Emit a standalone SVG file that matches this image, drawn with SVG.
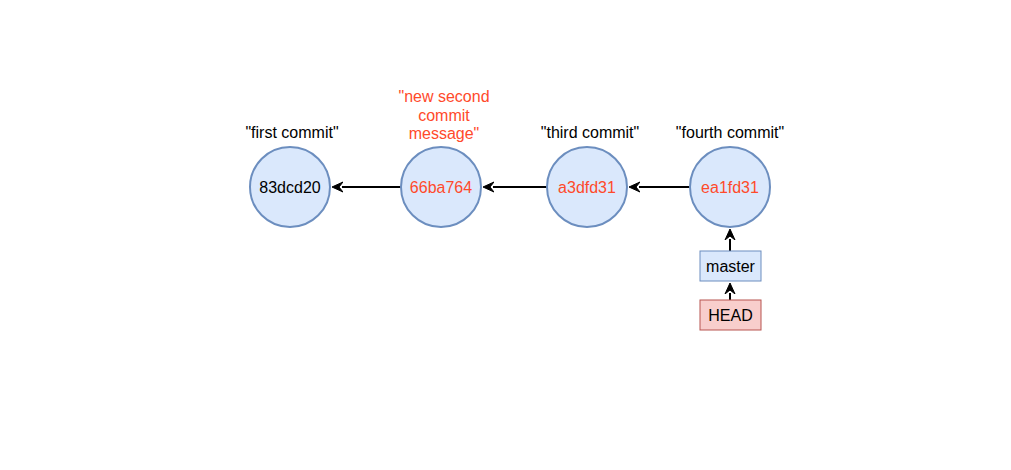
<svg xmlns="http://www.w3.org/2000/svg" width="1011" height="470" viewBox="0 0 1011 470">
<style>
.c{fill:#dae8fc;stroke:#6c8ebf;stroke-width:2}
.t{font-family:"Liberation Sans",Arial,sans-serif;font-size:16px;text-anchor:middle}
.r{fill:#ff4a2b}
.k{fill:#000}
.e{stroke:#000;stroke-width:2;fill:none;marker-end:url(#a)}
</style>
<defs>
<marker id="a" markerWidth="12" markerHeight="12" refX="1" refY="6" orient="auto" markerUnits="userSpaceOnUse" viewBox="0 0 12 12">
<path d="M12,1 L1,6 L12,11 L8,6 Z" fill="#000" stroke="#000" stroke-width="1" transform="rotate(180 6 6)"/>
</marker>
</defs>
<rect width="1011" height="470" fill="#fff"/>
<g id="connectors">
<path class="e" d="M401,187 L342,187"/>
<path class="e" d="M547,187 L493,187"/>
<path class="e" d="M690,187 L639,187"/>
<path class="e" d="M730,251 L730,239"/>
<path class="e" d="M730,300 L730,293"/>
</g>
<g id="c1">
<circle class="c" cx="290" cy="187" r="40"/>
<text class="t k" x="290" y="193">83dcd20</text>
<text class="t k" x="292" y="138">"first commit"</text>
</g>
<g id="c2">
<circle class="c" cx="441" cy="187" r="40"/>
<text class="t r" x="441" y="193">66ba764</text>
<text class="t r" x="444" y="102">"new second</text>
<text class="t r" x="444" y="121">commit</text>
<text class="t r" x="444" y="139">message"</text>
</g>
<g id="c3">
<circle class="c" cx="587" cy="187" r="40"/>
<text class="t r" x="587" y="193">a3dfd31</text>
<text class="t k" x="590" y="138">"third commit"</text>
</g>
<g id="c4">
<circle class="c" cx="730" cy="187" r="40"/>
<text class="t r" x="730" y="193">ea1fd31</text>
<text class="t k" x="730" y="138">"fourth commit"</text>
</g>
<g id="master">
<rect x="700" y="251" width="61" height="30" fill="#dae8fc" stroke="#6c8ebf" stroke-width="1"/>
<text class="t k" x="730.5" y="272">master</text>
</g>
<g id="head">
<rect x="700" y="300" width="61" height="30" fill="#f8cecc" stroke="#b85450" stroke-width="1"/>
<text class="t k" x="730.5" y="321">HEAD</text>
</g>
</svg>
